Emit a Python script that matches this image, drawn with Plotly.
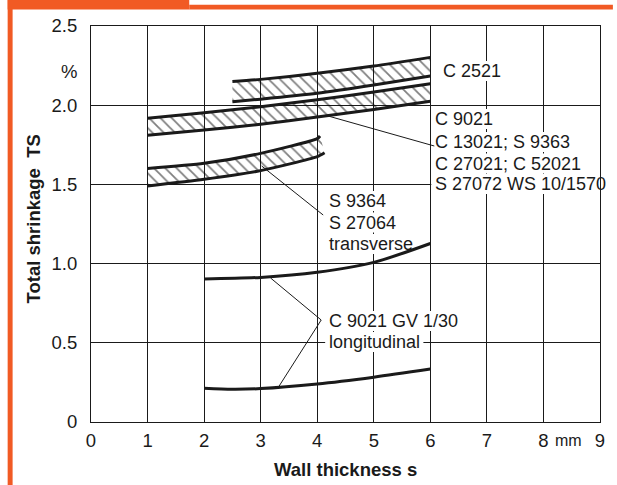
import plotly.graph_objects as go

# ---------------------------------------------------------------- data
# Wall thickness s (mm) and total shrinkage TS (%) for each moulding grade

# C 2521 band
c2521_x = [2.5, 3.0, 4.0, 5.0, 6.0]
c2521_hi = [2.150, 2.163, 2.201, 2.247, 2.302]
c2521_lo = [2.022, 2.038, 2.075, 2.127, 2.184]

# C 9021 / C 13021 / S 9363 / C 27021 / C 52021 / S 27072 WS 10/1570 band
c9021_x = [1.0, 2.0, 3.0, 4.0, 5.0, 6.0]
c9021_hi = [1.918, 1.952, 1.990, 2.035, 2.083, 2.135]
c9021_lo = [1.810, 1.843, 1.880, 1.925, 1.973, 2.025]

# S 9364 / S 27064 transverse band
s9364_hi_x = [1.0, 2.0, 3.0, 4.0, 4.05]
s9364_hi = [1.601, 1.633, 1.696, 1.789, 1.806]
s9364_lo_x = [1.0, 2.0, 3.0, 4.0, 4.13]
s9364_lo = [1.490, 1.532, 1.587, 1.675, 1.700]

# C 9021 GV 1/30 curves
gv_x = [2.0, 3.0, 4.0, 5.0, 6.0]
gv_transverse = [0.903, 0.913, 0.945, 1.008, 1.127]
gv_long_x = [2.0, 2.5, 3.0, 4.0, 5.0, 6.0]
gv_longitudinal = [0.213, 0.207, 0.211, 0.240, 0.283, 0.334]

x_ticks = [0, 1, 2, 3, 4, 5, 6, 7, 8, 9]
x_ticktext = ["0", "1", "2", "3", "4", "5", "6", "7", "8", "9"]
y_ticks = [0, 0.5, 1.0, 1.5, 2.0, 2.5]
y_ticktext = ["0", "0.5", "1.0", "1.5", "2.0", "2.5"]

# ---------------------------------------------------------------- layout constants
W, H = 617, 485
ML, MR, MT, MB = 91, 13, 26, 63
PW, PH = W - ML - MR, H - MT - MB
X0, X1 = 0, 9
Y0, Y1 = 0, 2.5

FONT = "Liberation Sans, Arial, sans-serif"
INK = "#1a1a1a"
ORANGE = "#F15A24"
LABEL_SIZE = 18
TICK_SIZE = 18.5
TITLE_SIZE = 18.5


def px_x(px):
    """horizontal pixel -> data x"""
    return X0 + (px - ML) / PW * (X1 - X0)


def px_y(py):
    """vertical pixel (from top) -> data y"""
    return Y0 + (MT + PH - py) / PH * (Y1 - Y0)


def paper_x(px):
    return (px - ML) / PW


def paper_y(py):
    return (MT + PH - py) / PH


fig = go.Figure()

# ---------------------------------------------------------------- hatched bands
hatch = dict(shape="\\", fgcolor="black", bgcolor="rgba(0,0,0,0)", size=8, solidity=0.22)


def band(x_hi, y_hi, x_lo, y_lo):
    fig.add_trace(go.Scatter(
        x=list(x_hi) + list(x_lo)[::-1],
        y=list(y_hi) + list(y_lo)[::-1],
        mode="lines", fill="toself", fillpattern=hatch,
        fillcolor="rgba(0,0,0,0)", line=dict(width=0),
        hoverinfo="skip", showlegend=False))
    for xs, ys in ((x_hi, y_hi), (x_lo, y_lo)):
        fig.add_trace(go.Scatter(
            x=xs, y=ys, mode="lines",
            line=dict(color=INK, width=3, shape="spline", smoothing=0.6),
            hoverinfo="skip", showlegend=False))


band(c2521_x, c2521_hi, c2521_x, c2521_lo)
band(c9021_x, c9021_hi, c9021_x, c9021_lo)
band(s9364_hi_x, s9364_hi, s9364_lo_x, s9364_lo)

# ---------------------------------------------------------------- single curves
for xs, ys in ((gv_x, gv_transverse), (gv_long_x, gv_longitudinal)):
    fig.add_trace(go.Scatter(
        x=xs, y=ys, mode="lines",
        line=dict(color=INK, width=3, shape="spline", smoothing=0.8),
        hoverinfo="skip", showlegend=False))

# ---------------------------------------------------------------- leader lines (pixel anchors)
leaders = [
    [(330, 116), (437, 146)],
    [(263, 166), (325, 215)],
    [(272, 278), (323, 320), (280, 387)],
]
for pts in leaders:
    fig.add_trace(go.Scatter(
        x=[px_x(p[0]) for p in pts], y=[px_y(p[1]) for p in pts],
        mode="lines", line=dict(color=INK, width=1),
        hoverinfo="skip", showlegend=False))

# ---------------------------------------------------------------- curve labels
# (text, left pixel, centre pixel, text width in pixels)
labels = [
    ("C 2521", 445, 71, 56),
    ("C 9021", 437, 119, 56),
    ("C 13021; S 9363", 437, 142, 130),
    ("C 27021; C 52021", 437, 163.5, 140),
    ("S 27072 WS 10/1570", 437, 184, 164),
    ("S 9364", 330, 201, 55),
    ("S 27064", 330, 222.5, 64),
    ("transverse", 330, 244, 80),
    ("C 9021 GV 1/30", 330, 321, 126),
    ("longitudinal", 330, 342, 90),
]
shapes = []
for text, lx, cy, tw in labels:
    shapes.append(dict(
        type="rect", layer="between", xref="x", yref="y",
        x0=px_x(lx - 3), x1=px_x(lx + tw + 6),
        y0=px_y(cy + 10), y1=px_y(cy - 10),
        fillcolor="white", line=dict(width=0)))

annotations = []
for text, lx, cy, tw in labels:
    annotations.append(dict(
        text=text, x=px_x(lx), y=px_y(cy), xref="x", yref="y",
        xanchor="left", yanchor="middle", showarrow=False,
        font=dict(family=FONT, size=LABEL_SIZE, color=INK), borderpad=0))

# unit labels and axis titles
annotations += [
    dict(text="%", x=paper_x(79), y=paper_y(71), xref="paper", yref="paper",
         xanchor="right", yanchor="middle", showarrow=False,
         font=dict(family=FONT, size=TICK_SIZE, color=INK)),
    dict(text="mm", x=paper_x(557), y=paper_y(440), xref="paper", yref="paper",
         xanchor="left", yanchor="middle", showarrow=False,
         font=dict(family=FONT, size=16, color=INK)),
    dict(text="<b>Wall thickness s</b>", x=paper_x(347), y=paper_y(469),
         xref="paper", yref="paper", xanchor="center", yanchor="middle",
         showarrow=False, font=dict(family=FONT, size=TITLE_SIZE, color=INK)),
    dict(text="<b>Total shrinkage\u00a0\u00a0TS</b>", x=paper_x(33), y=paper_y(219),
         xref="paper", yref="paper", xanchor="center", yanchor="middle",
         textangle=-90, showarrow=False, font=dict(family=FONT, size=TITLE_SIZE, color=INK)),
]

# ---------------------------------------------------------------- orange frame
shapes += [
    dict(type="rect", xref="paper", yref="paper", layer="above",
         x0=paper_x(7), x1=paper_x(190), y0=paper_y(9.5), y1=paper_y(0),
         fillcolor=ORANGE, line=dict(width=0)),
    dict(type="rect", xref="paper", yref="paper", layer="above",
         x0=paper_x(190), x1=paper_x(W), y0=paper_y(9.5), y1=paper_y(4.7),
         fillcolor=ORANGE, line=dict(width=0)),
    dict(type="rect", xref="paper", yref="paper", layer="above",
         x0=paper_x(7), x1=paper_x(12), y0=paper_y(H), y1=paper_y(0),
         fillcolor=ORANGE, line=dict(width=0)),
]

axis_common = dict(
    showgrid=True, gridcolor=INK, gridwidth=1,
    showline=True, linecolor=INK, linewidth=1, mirror=True,
    zeroline=False, ticks="outside", tickcolor="rgba(0,0,0,0)",
    tickfont=dict(family=FONT, size=TICK_SIZE, color=INK),
    fixedrange=True,
)

fig.update_layout(
    width=W, height=H, autosize=False,
    margin=dict(l=ML, r=MR, t=MT, b=MB, pad=0),
    paper_bgcolor="white", plot_bgcolor="white",
    xaxis=dict(range=[X0, X1], tickvals=x_ticks, ticktext=x_ticktext,
               ticklen=2, **axis_common),
    yaxis=dict(range=[Y0, Y1], tickvals=y_ticks, ticktext=y_ticktext,
               ticklen=9, **axis_common),
    shapes=shapes, annotations=annotations,
    showlegend=False,
)

fig.write_html("out.html")
